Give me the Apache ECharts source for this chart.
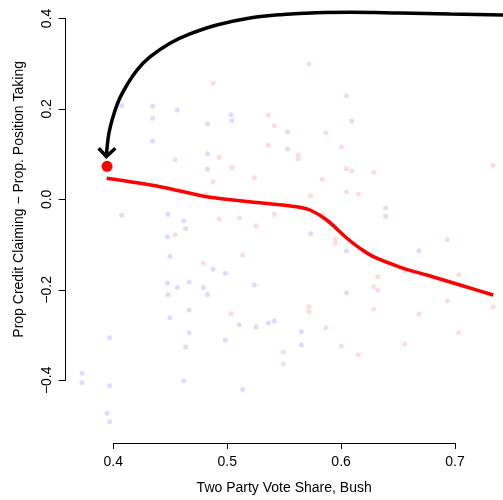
<!DOCTYPE html>
<html>
<head>
<meta charset="utf-8">
<script src="https://cdn.jsdelivr.net/npm/echarts@6/dist/echarts.min.js"></script>
<style>html,body{margin:0;padding:0;background:#fff}#c{width:503px;height:500px}</style>
</head>
<body>
<div id="c"></div>
<script>
// Blue (Democrat-side) points: [vote share, credit - position]
var bluePoints = [
[0.4074,0.2086],[0.4346,0.2072],[0.4562,0.1991],[0.4346,0.1809],[0.5033,0.1888],[0.5042,0.1757],
[0.4827,0.1691],[0.4346,0.1311],[0.4827,0.1033],[0.4827,0.0691],[0.5529,0.1515],[0.5529,0.1136],
[0.4074,-0.0318],[0.4480,-0.0296],[0.4618,-0.0443],[0.4636,-0.0612],[0.4474,-0.0787],[0.6047,0.2305],
[0.6093,0.1743],[0.6392,-0.0158],[0.6392,-0.0340],[0.5733,-0.0721],[0.4498,-0.1217],[0.4875,-0.1496],
[0.4983,-0.1590],[0.4474,-0.1803],[0.4665,-0.1781],[0.4562,-0.1901],[0.4790,-0.1901],[0.4480,-0.2055],
[0.4827,-0.2055],[0.5238,-0.1846],[0.4665,-0.2395],[0.4498,-0.2564],[0.5106,-0.2717],[0.5253,-0.2761],
[0.5361,-0.2680],[0.5414,-0.2636],[0.3968,-0.3002],[0.4665,-0.2893],[0.4983,-0.3059],[0.4636,-0.3206],
[0.3725,-0.3783],[0.3725,-0.3989],[0.3968,-0.4055],[0.4618,-0.3952],[0.5136,-0.4134],[0.3945,-0.4654],
[0.3968,-0.4844],[0.6047,-0.1101],[0.6684,-0.1094],[0.6047,-0.2015],[0.5651,-0.2871],[0.5651,-0.3162]
];
// Pink (Republican-side) points
var pinkPoints = [
[0.4875,0.2577],[0.5361,0.1882],[0.5414,0.1647],[0.5361,0.1224],[0.4542,0.0901],[0.4931,0.0954],
[0.5042,0.0726],[0.5238,0.0507],[0.4875,0.0419],[0.4814,0.0149],[0.4931,-0.0399],[0.5106,-0.0377],
[0.5414,-0.0296],[0.5253,-0.0553],[0.4542,-0.0743],[0.5718,0.3000],[0.5865,0.1493],[0.6002,0.1180],
[0.5624,0.1004],[0.5624,0.0923],[0.6047,0.0704],[0.6093,0.0654],[0.6286,0.0625],[0.5835,0.0471],
[0.6047,0.0193],[0.6153,0.0143],[0.5733,0.0112],[0.7334,0.0779],[0.5835,-0.0296],[0.5949,-0.0844],
[0.5949,-0.0932],[0.6932,-0.0849],[0.5136,-0.1189],[0.4790,-0.1371],[0.5033,-0.2476],[0.5494,-0.3316],
[0.5494,-0.3572],[0.6324,-0.1664],[0.6286,-0.1884],[0.6324,-0.1956],[0.7033,-0.1621],[0.6932,-0.2191],
[0.7334,-0.2329],[0.5718,-0.2322],[0.5718,-0.2432],[0.6286,-0.2373],[0.6684,-0.2482],[0.5865,-0.2783],
[0.6002,-0.3191],[0.6153,-0.3375],[0.6558,-0.3147],[0.7033,-0.2893],[0.6558,-0.1539]
];
// Loess fit line
var fitLine = [
[0.3942,0.0493],[0.4410,0.0310],[0.4849,0.0077],[0.5288,-0.0042],[0.5610,-0.0129],[0.5727,-0.0202],
[0.5874,-0.0421],[0.6049,-0.0816],[0.6166,-0.1042],[0.6283,-0.1226],[0.6546,-0.1480],[0.6752,-0.1627],
[0.7044,-0.1846],[0.7336,-0.2066]
];
// Highlighted point
var highlightPoint = [[0.3945,0.0755]];
// Annotation arrow path and head
var arrowPath = [
[0.7571,0.4064],[0.7421,0.4075],[0.6956,0.4096],[0.6517,0.4118],[0.6078,0.4134],[0.5786,0.4125],
[0.5490,0.4086],[0.5200,0.4009],[0.4908,0.3855],[0.4673,0.3658],[0.4498,0.3454],[0.4322,0.3154],
[0.4208,0.2868],[0.4120,0.2539],[0.4050,0.2211],[0.3997,0.1838],[0.3962,0.1487],[0.3945,0.1158],
[0.3940,0.1004]
];
var arrowHead = [[0.3872,0.1151],[0.3939,0.0971],[0.4018,0.1151]];
var xTicks = {min:0.4, max:0.7, interval:0.1};
var yTicks = {min:-0.4, max:0.4, interval:0.2};
// full data window (same scale as the tick axes)
var xWindow = {min:0.36, max:0.74};
var yWindow = {min:-0.5, max:0.44};

var chart = echarts.init(document.getElementById('c'), null, {renderer:'canvas'});
var font = 'Liberation Sans, Arial, Helvetica, sans-serif';
// pixel scale: 1139 px per unit in x, 456 px per unit in y; x=0.4 at 113.3, y=0 at 200.8
var pxX = 1139, pxY = 456, x0 = 113.3, y0 = 200.8;
function gx(v){return x0 + (v - 0.4) * pxX;}
function gy(v){return y0 - v * pxY;}
chart.setOption({
  animation:false,
  backgroundColor:'#fff',
  grid:[
    {left:gx(xWindow.min), right:503 - gx(xWindow.max), top:gy(yWindow.max), bottom:500 - gy(yWindow.min)},
    {left:gx(xTicks.min), right:503 - gx(xTicks.max), top:gy(yTicks.max), bottom:500 - gy(yTicks.min)}
  ],
  xAxis:[
    {gridIndex:0, type:'value', min:xWindow.min, max:xWindow.max, show:false},
    {gridIndex:1, type:'value', min:xTicks.min, max:xTicks.max, interval:xTicks.interval, offset:62.7,
    name:'Two Party Vote Share, Bush', nameLocation:'middle', nameGap:38,
    nameTextStyle:{fontFamily:font, fontSize:14, color:'#000'},
    axisLine:{show:true, onZero:false, lineStyle:{color:'#000', width:1}},
    axisTick:{show:true, length:6, lineStyle:{color:'#000'}},
    axisLabel:{fontFamily:font, fontSize:14, color:'#000', margin:12,
      formatter:function(v){return v.toFixed(1);}},
    splitLine:{show:false}}
  ],
  yAxis:[
    {gridIndex:0, type:'value', min:yWindow.min, max:yWindow.max, show:false},
    {gridIndex:1, type:'value', min:yTicks.min, max:yTicks.max, interval:yTicks.interval, offset:47.6,
    name:'Prop Credit Claiming \u2212 Prop. Position Taking', nameLocation:'middle', nameGap:40,
    nameTextStyle:{fontFamily:font, fontSize:14, color:'#000'},
    axisLine:{show:true, onZero:false, lineStyle:{color:'#000', width:1}},
    axisTick:{show:true, length:7, lineStyle:{color:'#000'}},
    axisLabel:{fontFamily:font, fontSize:14, color:'#000', margin:12, rotate:90,
      formatter:function(v){return v.toFixed(1).replace('-','\u2212');}},
    splitLine:{show:false}}
  ],
  series:[
    {type:'scatter', data:bluePoints, symbolSize:5, clip:false, itemStyle:{color:'#dcdcff', opacity:1}, silent:true},
    {type:'scatter', data:pinkPoints, symbolSize:5, clip:false, itemStyle:{color:'#ffdcdc', opacity:1}, silent:true},
    {type:'line', data:fitLine, smooth:0.3, showSymbol:false, clip:false,
      lineStyle:{color:'#ff0000', width:3.5}, silent:true},
    {type:'scatter', data:highlightPoint, symbolSize:11, clip:false, itemStyle:{color:'#ff0000', opacity:1}, silent:true},
    {type:'line', data:arrowPath, smooth:0.4, showSymbol:false, clip:false,
      lineStyle:{color:'#000', width:3.5}, silent:true},
    {type:'line', data:arrowHead, smooth:false, showSymbol:false, clip:false,
      lineStyle:{color:'#000', width:3.5, join:'miter'}, silent:true}
  ]
});
</script>
</body>
</html>
